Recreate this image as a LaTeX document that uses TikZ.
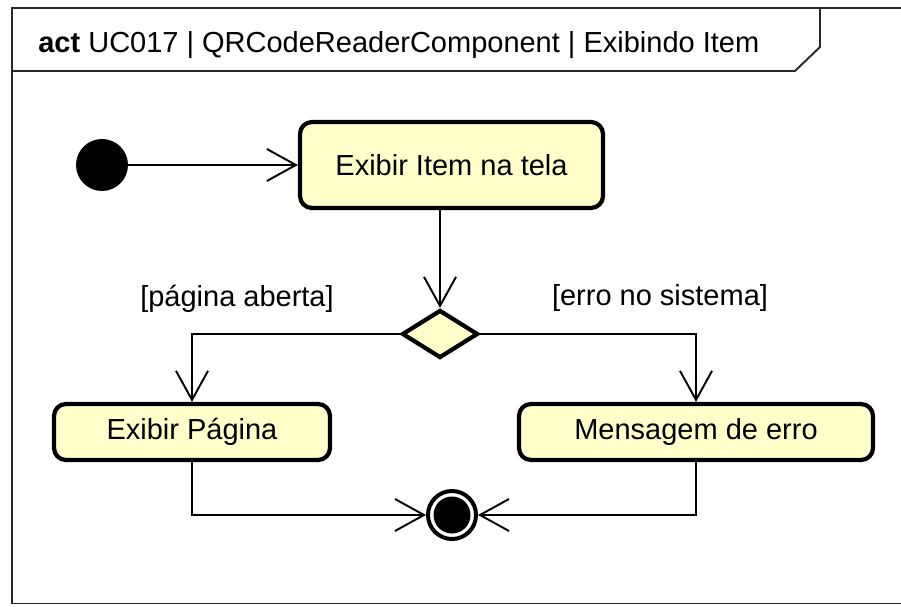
\documentclass[tikz,border=0pt]{standalone}
\usepackage{fontspec}
\setmainfont{Liberation Sans}
\usetikzlibrary{arrows.meta,shapes.geometric,positioning}
\definecolor{actfill}{RGB}{255,255,204}
\definecolor{frameline}{RGB}{40,40,40}

\begin{document}
\begin{tikzpicture}[
  >={Straight Barb[length=0.58cm,width=0.64cm]},
  txt/.style={font=\fontsize{16.5}{20}\selectfont},
  action/.style={draw,line width=2.4pt,fill=actfill,rounded corners=0.24cm,
                 minimum height=1.12cm,inner sep=0pt,txt},
  flow/.style={->,line width=1.1pt},
]
\useasboundingbox (0,0) rectangle (18.02,12.12);

%% ── frame and header tab ────────────────────────────────────────────────────
\draw[frameline,line width=1.1pt]
  (18.1,11.96) -- (0.24,11.96) -- (0.24,0.05) -- (18.1,0.05);
\draw[frameline,line width=1.1pt]
  (0.24,10.7) -- (15.9,10.7) -- (16.4,11.18) -- (16.4,11.96);
\node[anchor=base west,inner sep=0pt,txt] (title) at (0.76,11.06)
  {\textbf{act} UC017 | QRCodeReaderComponent | Exibindo Item};

%% ── initial node and first action ───────────────────────────────────────────
\node[circle,fill=black,minimum size=1.04cm,inner sep=0pt] (start) at (2.04,8.82) {};
\node[action,minimum width=6.06cm,minimum height=1.72cm] (show) at (9.03,8.82)
  {Exibir Item na tela};

%% ── decision ────────────────────────────────────────────────────────────────
\node[diamond,draw,line width=2.4pt,fill=actfill,minimum width=1.52cm,
      minimum height=0.96cm,inner sep=0pt] (choice) at (8.8,5.44) {};

%% ── branch actions ──────────────────────────────────────────────────────────
\node[action,minimum width=5.52cm] (page) at (3.84,3.48) {Exibir Página};
\node[action,minimum width=7.08cm] (fail) at (13.92,3.48) {Mensagem de erro};

%% ── final node ──────────────────────────────────────────────────────────────
\node[circle,draw,line width=0.08cm,fill=white,minimum size=0.96cm,inner sep=0pt]
  (stop) at (9.04,1.82) {};
\fill (stop.center) circle (0.37);

%% ── guards ──────────────────────────────────────────────────────────────────
\node[txt] (guardopen) at (4.74,6.15) {[página aberta]};
\node[txt] (guarderr) at (13.2,6.15) {[erro no sistema]};

%% ── flows ───────────────────────────────────────────────────────────────────
\draw[flow] (start) -- (show);
\draw[flow] (show.south -| choice.north) -- (choice.north);
\draw[flow] (choice.west) -| (page.north);
\draw[flow] (choice.east) -| (fail.north);
\draw[flow] (page.south) |- (stop.west);
\draw[flow] (fail.south) |- (stop.east);

\end{tikzpicture}
\end{document}
